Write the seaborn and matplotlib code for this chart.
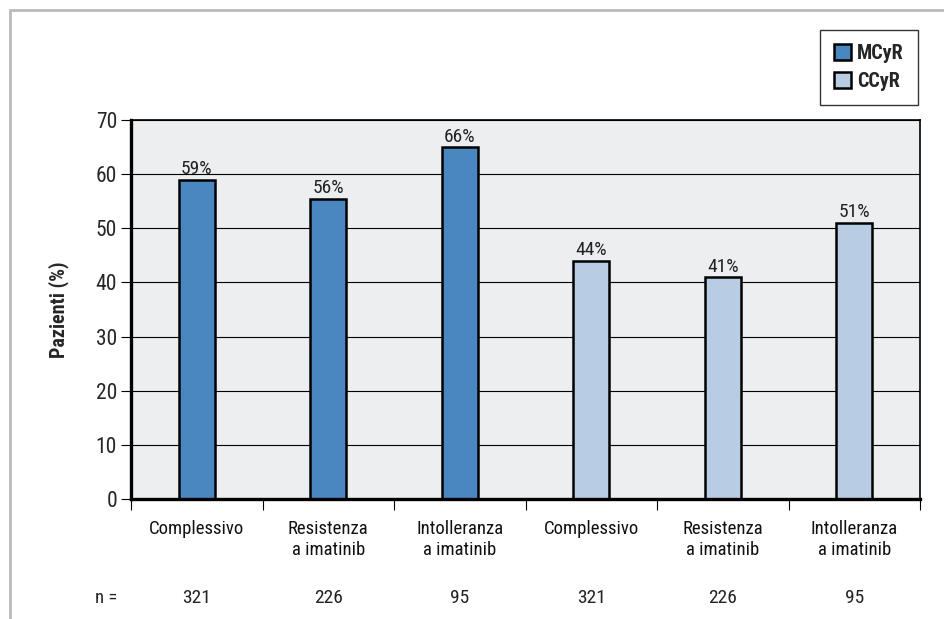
import matplotlib
matplotlib.use("Agg")
import matplotlib.pyplot as plt
from matplotlib import font_manager
from matplotlib.lines import Line2D
import seaborn as sns
import pandas as pd

# ---- data ----
series = ["MCyR", "MCyR", "MCyR", "CCyR", "CCyR", "CCyR"]
categories = ["Complessivo", "Resistenza\na imatinib", "Intolleranza\na imatinib",
              "Complessivo", "Resistenza\na imatinib", "Intolleranza\na imatinib"]
values = [59, 55.5, 65, 44, 41, 51]
value_labels = ["59%", "56%", "66%", "44%", "41%", "51%"]
n_values = ["321", "226", "95", "321", "226", "95"]
y_ticks = [0, 10, 20, 30, 40, 50, 60, 70]
colors = {"MCyR": "#4A86BF", "CCyR": "#B8CCE4"}

sns.set_theme(style="white")
avail = {f.name for f in font_manager.fontManager.ttflist}
fam = [f for f in ["Liberation Sans Narrow", "DejaVu Sans Condensed", "Roboto Condensed"] if f in avail]
plt.rcParams["font.family"] = fam + ["DejaVu Sans"]

keys = [f"{s}|{i}" for i, s in enumerate(series)]
df = pd.DataFrame({"key": keys, "value": values, "series": series})

fig = plt.figure(figsize=(9.44, 6.19), dpi=100)
ax = fig.add_axes([131/944, 1-499/619, (920-131)/944, (499-120)/619])
ax.set_facecolor("#EDEEF0")

sns.barplot(data=df, x="key", y="value", hue="series", palette=colors,
            dodge=False, width=0.275, edgecolor="black", linewidth=1.8,
            saturation=1, ax=ax, legend=True, zorder=3)

for c, lab in zip(ax.containers, [value_labels[:3], value_labels[3:]]):
    ax.bar_label(c, labels=lab, padding=1, fontsize=14, color="#222222")

ax.set_xlim(-0.5, len(values) - 0.5)
ax.set_ylim(0, 70)
ax.set_yticks(y_ticks)
ax.yaxis.grid(True, color="black", linewidth=0.8, zorder=0)
ax.set_axisbelow(True)
ax.tick_params(axis="y", which="major", direction="out", length=7, width=0.8,
               color="black", labelsize=15.5, pad=3, left=True)
ax.set_xticks(range(len(values)))
ax.set_xticklabels(categories, fontsize=13.5, color="#111111", linespacing=1.2)
ax.tick_params(axis="x", which="major", length=0, pad=15)
ax.set_xticks([i - 0.5 for i in range(len(values) + 1)], minor=True)
ax.tick_params(axis="x", which="minor", direction="out", length=8, width=0.8,
               color="black", bottom=True)
ax.set_xlabel("")
ax.set_ylabel("Pazienti (%)", fontsize=14.5, fontweight="bold", labelpad=19)

for side, lw in [("left", 2.4), ("bottom", 2.4), ("top", 1.2), ("right", 1.2)]:
    ax.spines[side].set_visible(True)
    ax.spines[side].set_color("black")
    ax.spines[side].set_linewidth(lw)
    ax.spines[side].set_zorder(5)

# n row
trans = ax.get_xaxis_transform()
ax.text(-0.5 - 0.1, -0.26, "n =", transform=trans, ha="right", va="center",
        fontsize=13.5, color="#222222")
for i, n in enumerate(n_values):
    ax.text(i, -0.26, n, transform=trans, ha="center", va="center",
            fontsize=14, color="#222222")

leg = ax.legend(loc="upper right", bbox_to_anchor=(918/944, 1-30/619),
                bbox_transform=fig.transFigure, frameon=True, fancybox=False,
                borderaxespad=0, edgecolor="black", handlelength=0.85,
                handleheight=0.85, handletextpad=0.3, borderpad=0.7,
                labelspacing=0.45, prop={"weight": "bold", "size": 14.5})
leg.get_frame().set_linewidth(1.0)
leg.set_title(None)

# outer gray frame
fig.add_artist(Line2D([10/944, 1], [1-10/619, 1-10/619], color="#BBBBBB",
                      linewidth=2, transform=fig.transFigure))
fig.add_artist(Line2D([10/944, 10/944], [0, 1-10/619], color="#BBBBBB",
                      linewidth=2, transform=fig.transFigure))

fig.savefig("out.png", dpi=100, facecolor="white")
